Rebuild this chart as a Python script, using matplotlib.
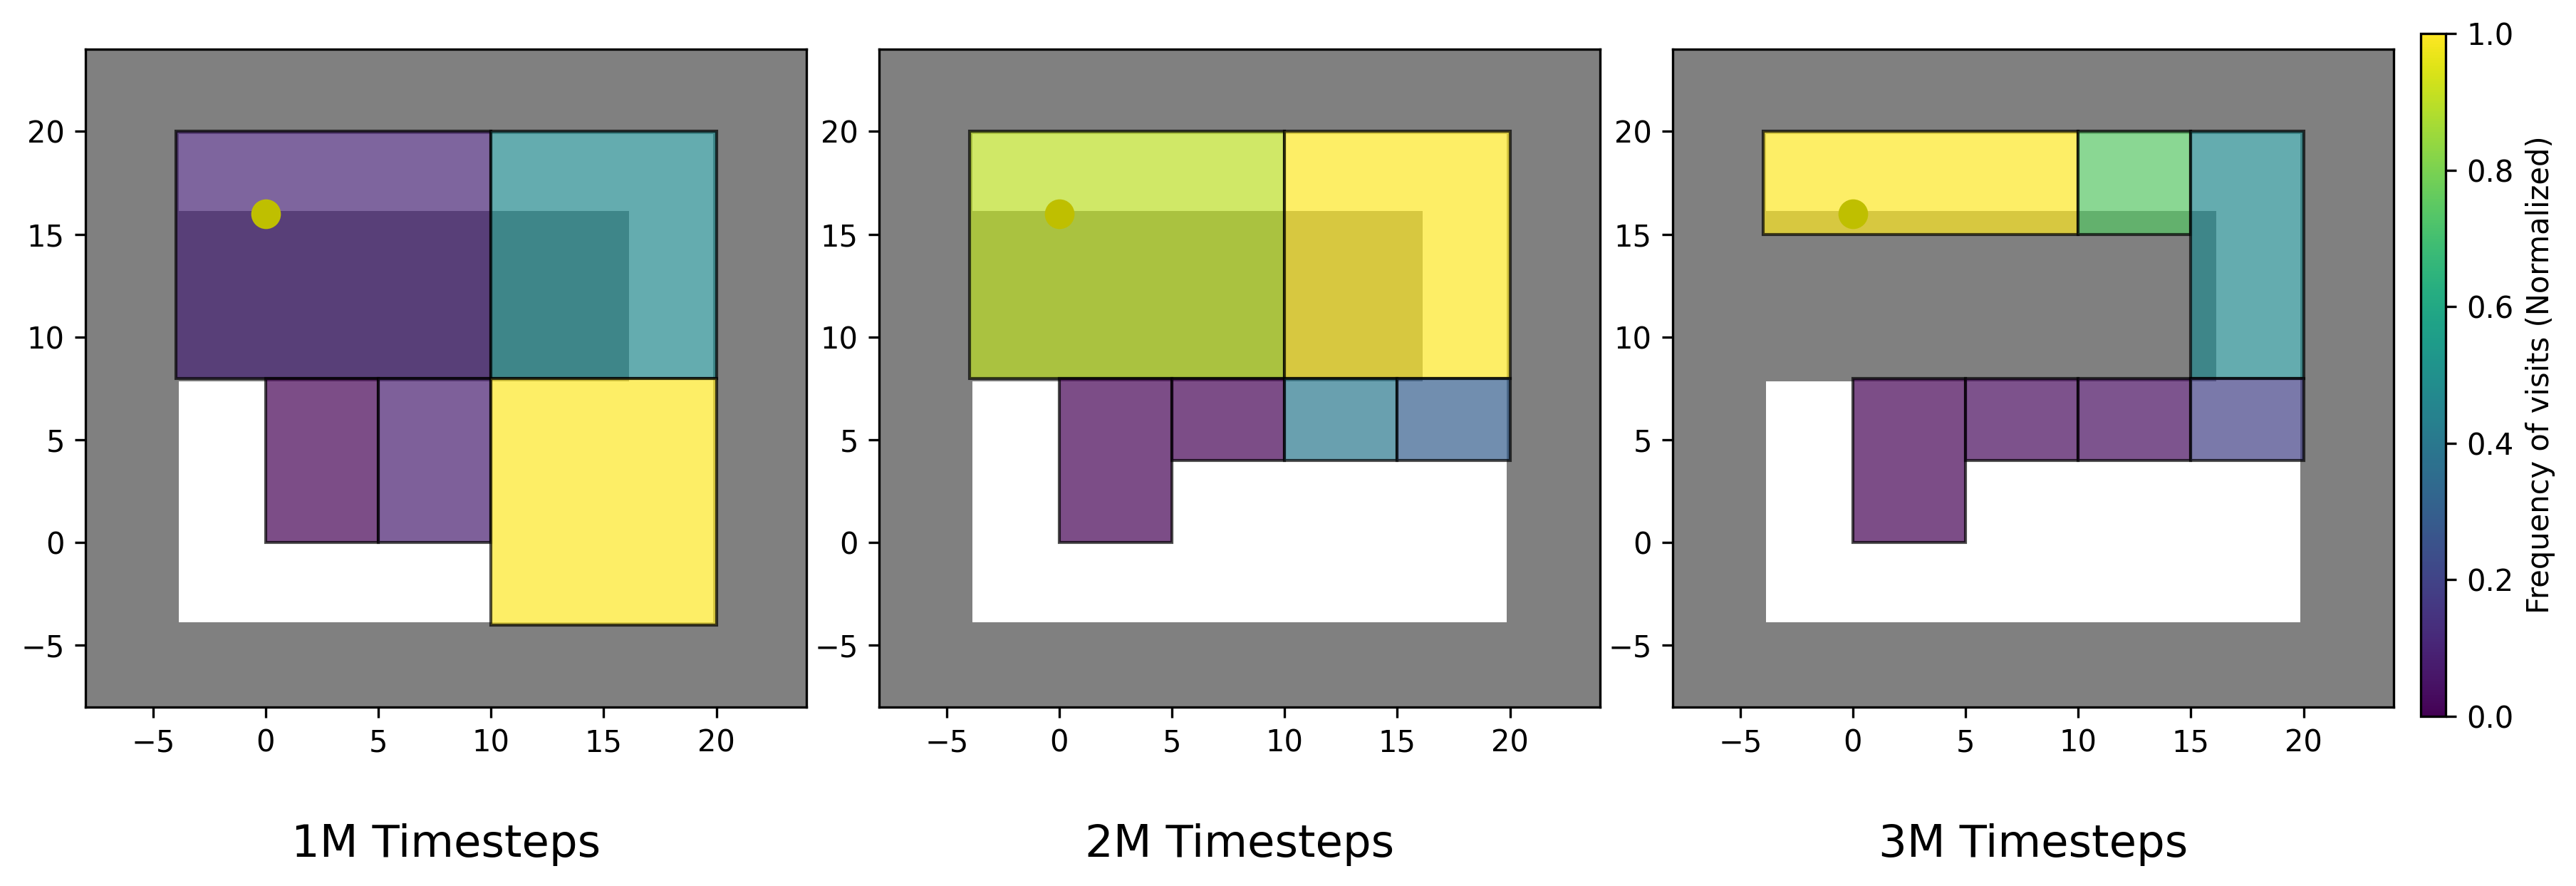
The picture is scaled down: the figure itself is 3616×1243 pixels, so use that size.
import matplotlib.pyplot as plt
from matplotlib.patches import Rectangle
from matplotlib import cm, colors

# Visited cells (x0, y0, x1, y1) and normalized visit frequency, per checkpoint
titles = ['1M Timesteps', '2M Timesteps', '3M Timesteps']

cells_1m = [(-4, 8, 10, 20), (10, 8, 20, 20), (0, 0, 5, 8), (5, 0, 10, 8), (10, -4, 20, 8)]
freq_1m = [0.10, 0.47, 0.00, 0.08, 1.00]

cells_2m = [(-4, 8, 10, 20), (10, 8, 20, 20), (0, 0, 5, 8), (5, 4, 10, 8),
            (10, 4, 15, 8), (15, 4, 20, 8)]
freq_2m = [0.90, 1.00, 0.00, 0.00, 0.40, 0.30]

cells_3m = [(-4, 15, 10, 20), (10, 15, 15, 20), (15, 8, 20, 20), (0, 0, 5, 8),
            (5, 4, 10, 8), (10, 4, 15, 8), (15, 4, 20, 8)]
freq_3m = [1.00, 0.74, 0.47, 0.00, 0.02, 0.03, 0.19]

# maze: free area and the wall block in the middle
free_area = (-3.86, -3.86, 19.86, 19.86)
wall_block = (-3.86, 7.86, 16.14, 16.14)
start_x, start_y = 0, 16

all_cells = [cells_1m, cells_2m, cells_3m]
all_freq = [freq_1m, freq_2m, freq_3m]

cmap = plt.get_cmap('viridis')
norm = colors.Normalize(vmin=0, vmax=1)

W, H = 3616, 1243
fig = plt.figure(figsize=(W / 300, H / 300), dpi=300)
lefts = [120, 1234, 2348]

for i in range(3):
    ax = fig.add_axes([lefts[i] / W, (H - 992) / H, 1012 / W, 923 / H])
    ax.set_facecolor('gray')
    x0, y0, x1, y1 = free_area
    ax.add_patch(Rectangle((x0, y0), x1 - x0, y1 - y0, facecolor='white', edgecolor='none', zorder=1))
    x0, y0, x1, y1 = wall_block
    ax.add_patch(Rectangle((x0, y0), x1 - x0, y1 - y0, facecolor='gray', edgecolor='none', zorder=2))
    for (cx0, cy0, cx1, cy1), f in zip(all_cells[i], all_freq[i]):
        ax.add_patch(Rectangle((cx0, cy0), cx1 - cx0, cy1 - cy0, facecolor=cmap(norm(f)),
                               edgecolor='black', linewidth=1, alpha=0.7, zorder=3))
    ax.plot(start_x, start_y, 'o', color='y', markersize=9, zorder=5)
    ax.set_xlim(-8, 24)
    ax.set_ylim(-8, 24)
    ax.set_xticks([-5, 0, 5, 10, 15, 20])
    ax.set_yticks([-5, 0, 5, 10, 15, 20])
    fig.text((lefts[i] + 506) / W, (H - 1201.7) / H, titles[i], fontsize=15,
             ha='center', va='baseline')

cax = fig.add_axes([3398 / W, (H - 1005) / H, 35 / W, 958 / H])
sm = cm.ScalarMappable(norm=norm, cmap=cmap)
cbar = fig.colorbar(sm, cax=cax)
cbar.set_label('Frequency of visits (Normalized)')

plt.savefig('out.png', dpi=300)
